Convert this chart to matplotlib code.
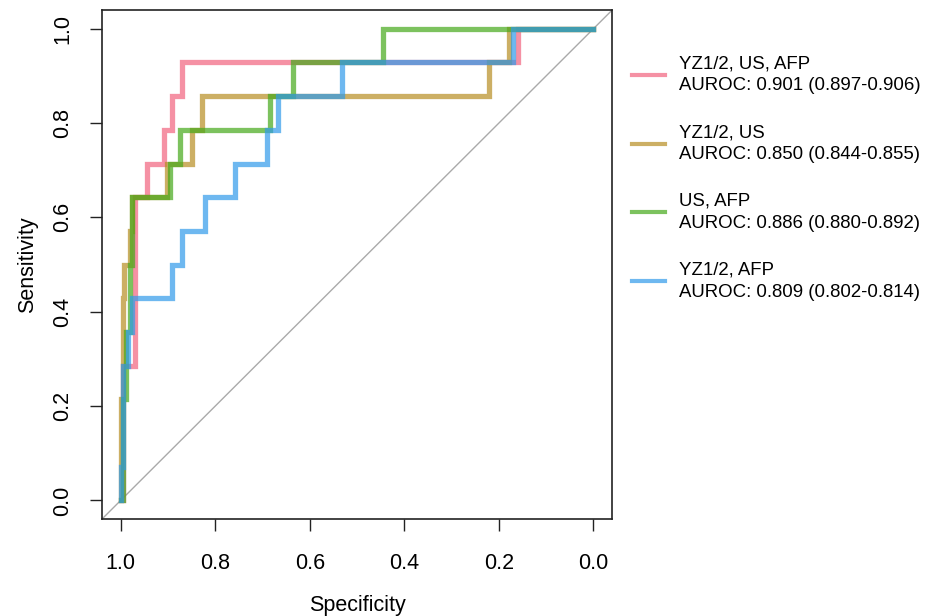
import matplotlib.pyplot as plt
from matplotlib.lines import Line2D

plt.rcParams['font.family'] = ['Liberation Sans', 'DejaVu Sans']

# ROC steps: specificity at each vertical jump, and the sensitivity reached
pink_spec = [0.996, 0.970, 0.945, 0.909, 0.892, 0.871, 0.159]
pink_sens = [0.286, 0.643, 0.714, 0.786, 0.857, 0.929, 1.0]

olive_spec = [1.0, 0.996, 0.992, 0.981, 0.975, 0.903, 0.850, 0.827, 0.220, 0.178]
olive_sens = [0.214, 0.429, 0.500, 0.571, 0.643, 0.714, 0.786, 0.857, 0.929, 1.0]

green_spec = [0.996, 0.989, 0.981, 0.975, 0.896, 0.875, 0.685, 0.636, 0.446]
green_sens = [0.214, 0.357, 0.500, 0.643, 0.714, 0.786, 0.857, 0.929, 1.0]

blue_spec = [1.0, 0.996, 0.985, 0.975, 0.892, 0.871, 0.822, 0.759, 0.691, 0.668, 0.531, 0.171]
blue_sens = [0.071, 0.286, 0.357, 0.429, 0.500, 0.571, 0.643, 0.714, 0.786, 0.857, 0.929, 1.0]

labels = [
    'YZ1/2, US, AFP\nAUROC: 0.901 (0.897-0.906)',
    'YZ1/2, US\nAUROC: 0.850 (0.844-0.855)',
    'US, AFP\nAUROC: 0.886 (0.880-0.892)',
    'YZ1/2, AFP\nAUROC: 0.809 (0.802-0.814)',
]
colors = ['#F1627E', '#B78D22', '#45A91A', '#309BEA']


def stepPath(spec, sens):
    # start at (1, 0), go across then up at each jump, end at (0, 1)
    xs, ys = [1.0], [0.0]
    last = 0.0
    for s, h in zip(spec, sens):
        xs += [s, s]
        ys += [last, h]
        last = h
    xs.append(0.0)
    ys.append(last)
    return xs, ys


fig = plt.figure(figsize=(9.25, 6.16), dpi=100)
ax = fig.add_axes([0.110, 0.157, 0.552, 0.827])

ax.plot([1.04, -0.04], [-0.04, 1.04], color='#AAAAAA', lw=1.0, zorder=1)

curves = [(pink_spec, pink_sens), (olive_spec, olive_sens),
          (green_spec, green_sens), (blue_spec, blue_sens)]
for (sp, se), c in zip(curves, colors):
    xs, ys = stepPath(sp, se)
    ax.plot(xs, ys, color=c, lw=3.8, alpha=0.7, solid_joinstyle='miter', zorder=2)

ax.set_xlim(1.04, -0.04)
ax.set_ylim(-0.04, 1.04)
ticks = [0.0, 0.2, 0.4, 0.6, 0.8, 1.0]
ax.set_xticks(ticks)
ax.set_yticks(ticks)
ax.set_xticklabels(['%.1f' % t for t in ticks])
ax.set_yticklabels(['%.1f' % t for t in ticks], rotation=90, va='center')
ax.tick_params(labelsize=15.5, length=8.5, width=1.0, color='#222222')
ax.tick_params(axis='x', pad=16)
ax.tick_params(axis='y', pad=12)
for sp in ax.spines.values():
    sp.set_linewidth(1.2)
    sp.set_color('#222222')
ax.set_xlabel('Specificity', fontsize=15.5, labelpad=15)
ax.set_ylabel('Sensitivity', fontsize=15.5, labelpad=10)

handles = [Line2D([], [], color=c, lw=3.0, alpha=0.7) for c in colors]
leg = fig.legend(handles, labels, loc='upper left', bbox_to_anchor=(0.665, 0.937),
                 frameon=False, fontsize=13.4, handlelength=1.8, handletextpad=0.75,
                 labelspacing=1.6)
for t in leg.get_texts():
    t.set_linespacing(1.38)

fig.savefig('out.png', dpi=100)
